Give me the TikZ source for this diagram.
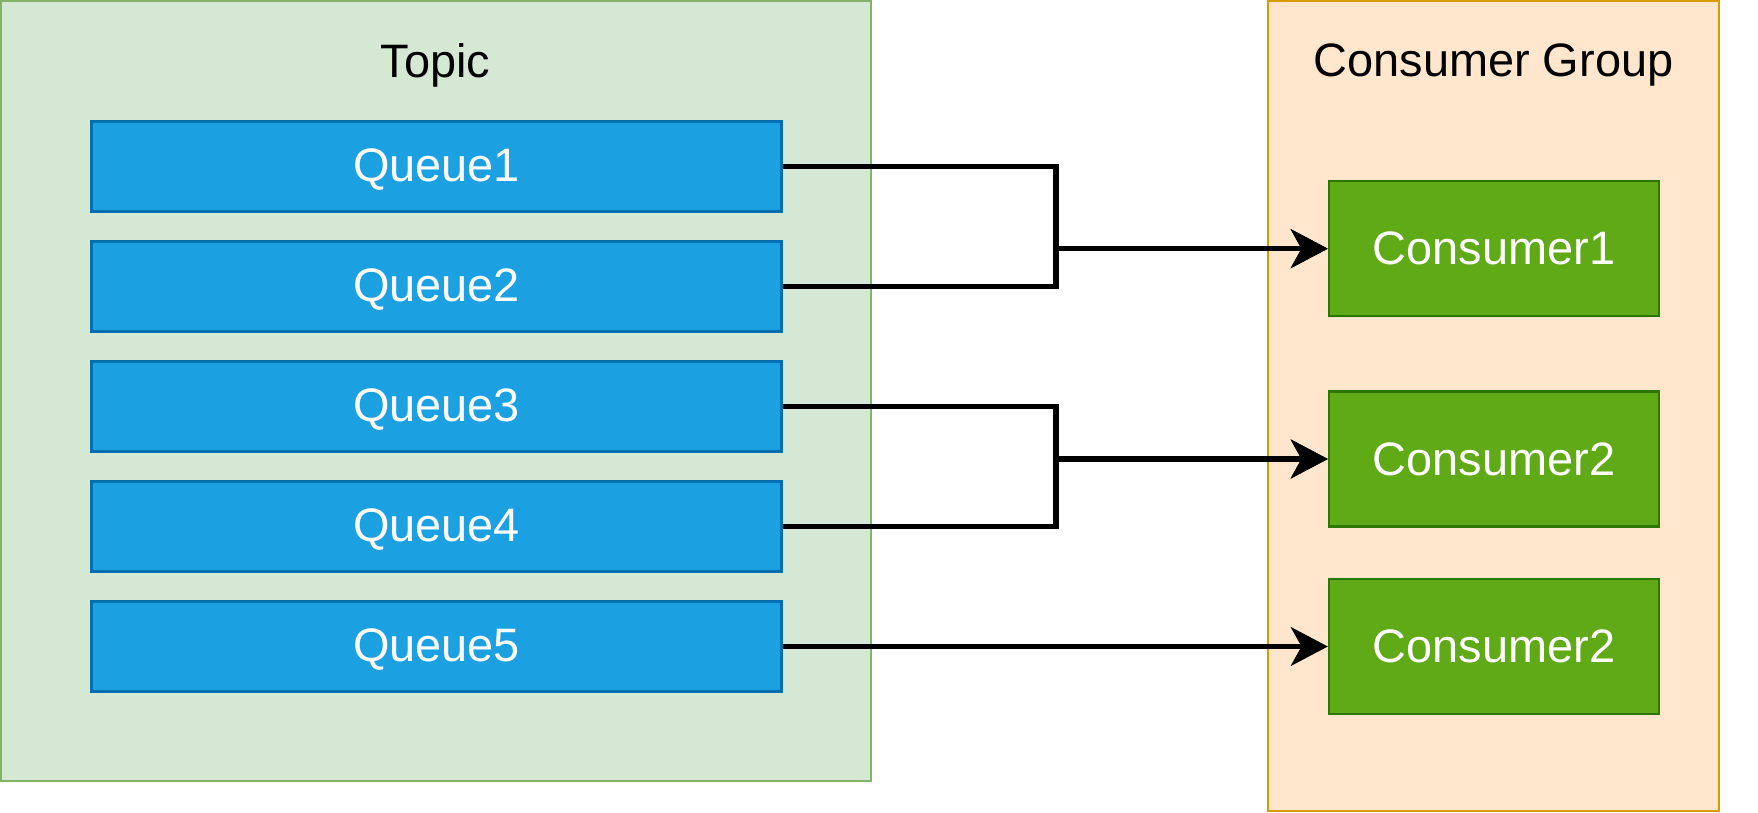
\documentclass[tikz,border=0pt]{standalone}
\usepackage{fontspec}
\setmainfont{Liberation Sans}
\usepackage{tikz}
\usetikzlibrary{arrows.meta}
\definecolor{topicfill}{HTML}{D5E8D4}
\definecolor{topicline}{HTML}{82B366}
\definecolor{groupfill}{HTML}{FFE6CC}
\definecolor{groupline}{HTML}{D79B00}
\definecolor{queuefill}{HTML}{1BA1E2}
\definecolor{queueline}{HTML}{006EAF}
\definecolor{consfill}{HTML}{60A917}
\definecolor{consline}{HTML}{2D7600}
\tikzstyle{queue} = [draw=queueline, fill=queuefill, line width=1.7pt, text=white,
    minimum width=13.8cm, minimum height=1.8cm, inner sep=0pt, text depth=0.1em]
\tikzstyle{consumer} = [draw=consline, fill=consfill, line width=1.4pt, text=white,
    minimum width=6.6cm, minimum height=2.7cm, inner sep=0pt]
\tikzstyle{link} = [line width=2.9pt, line join=miter, -{Stealth[length=21pt,width=22pt,inset=6pt]}]

\begin{document}
\begin{tikzpicture}[x=0.02cm,y=-0.02cm,every node/.style={font=\fontsize{26.7}{32}\selectfont}]
    \useasboundingbox (0,0) rectangle (1758,813);
    % containers
    \draw[fill=topicfill,draw=topicline,line width=1.1pt] (1,1) rectangle (871,781);
    \draw[fill=groupfill,draw=groupline,line width=1.1pt] (1268,1) rectangle (1719,811);
    \node (topic) at (435.5,65) {Topic};
    \node (group) at (1493.5,65) {Consumer Group};
    % queues
    \foreach \i/\y in {1/166.5,2/286.5,3/406.5,4/526.5,5/646.5}{
        \node[queue] (q\i) at (436.5,\y) {Queue\i};
    }
    % consumers
    \node[consumer] (c1) at (1494,248.7) {Consumer1};
    \node[consumer] (c2) at (1494,459) {Consumer2};
    \node[consumer] (c3) at (1494,646.5) {Consumer2};
    \coordinate (j1) at (1056,248.7);
    \coordinate (j2) at (1056,459);
    \draw[link] (q1.east) -| (j1) -- (c1.west);
    \draw[link] (q2.east) -| (j1) -- (c1.west);
    \draw[link] (q3.east) -| (j2) -- (c2.west);
    \draw[link] (q4.east) -| (j2) -- (c2.west);
    \draw[link] (q5.east) -- (c3.west);
\end{tikzpicture}
\end{document}
